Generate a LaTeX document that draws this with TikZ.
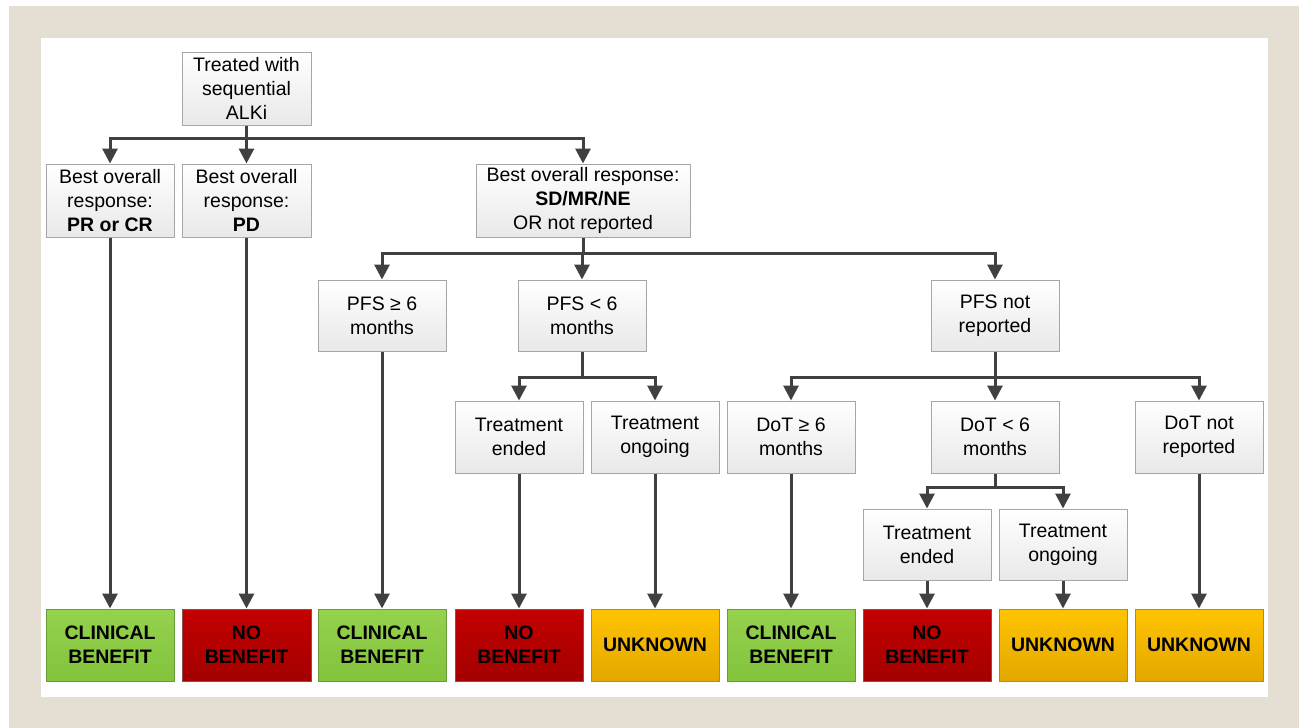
\documentclass[tikz,border=0pt]{standalone}
\usepackage{fontspec}
\setmainfont{Liberation Sans}
\usetikzlibrary{arrows.meta,shadings}
\definecolor{beige}{HTML}{E5DFD3}
\definecolor{linec}{HTML}{404040}
\definecolor{boxline}{HTML}{A6A6A6}
\definecolor{grtop}{HTML}{95D24E}
\definecolor{grbot}{HTML}{83C33C}
\definecolor{grline}{HTML}{6A9A3A}
\definecolor{rdtop}{HTML}{C40000}
\definecolor{rdbot}{HTML}{A30000}
\definecolor{rdline}{HTML}{8A5050}
\definecolor{yltop}{HTML}{FFC400}
\definecolor{ylbot}{HTML}{E3A700}
\definecolor{ylline}{HTML}{A88A40}
\tikzset{
  every node/.style={font=\fontsize{19.5}{24}\selectfont},
  graybox/.style={rectangle, draw=boxline, line width=1pt, top color=white, bottom color=black!9,
    minimum width=128pt, minimum height=72pt, inner sep=0pt, align=center},
  greenbox/.style={graybox, draw=grline, top color=grtop, bottom color=grbot, font=\fontsize{19.5}{24}\selectfont\bfseries},
  redbox/.style={graybox, draw=rdline, top color=rdtop, bottom color=rdbot, font=\fontsize{19.5}{24}\selectfont\bfseries},
  yellowbox/.style={graybox, draw=ylline, top color=yltop, bottom color=ylbot, font=\fontsize{19.5}{24}\selectfont\bfseries},
  conn/.style={draw=linec, line width=3pt, line join=miter},
  arr/.style={conn, -{Triangle[width=15pt,length=15pt]}}
}
\begin{document}
\begin{tikzpicture}[x=1pt,y=-1pt]
\useasboundingbox (0,0) rectangle (1299,728);
\fill[white] (0,0) rectangle (1299,728);
\fill[beige] (9,6) rectangle (1299,728);
\fill[white] (41,38) rectangle (1268,697);

% top
\node[graybox, minimum width=129pt, minimum height=73pt] (top) at (246.5,88.5) {Treated with\\sequential\\ALKi};
% row 2
\node[graybox, minimum height=73pt] (prcr) at (110,200.5) {Best overall\\response:\\\textbf{PR or CR}};
\node[graybox, minimum width=129pt, minimum height=73pt] (pd) at (246.5,200.5) {Best overall\\response:\\\textbf{PD}};
\node[graybox, minimum width=214pt, minimum height=73pt] (sd) at (583,200.5) {Best overall response:\\\textbf{SD/MR/NE}\\OR not reported};
% row 3
\node[graybox, minimum height=71pt] (pfsge) at (382,315.5) {PFS ≥ 6\\months};
\node[graybox, minimum height=71pt] (pfslt) at (582,315.5) {PFS < 6\\months};
\node[graybox, minimum height=71pt] (pfsnr) at (995,315.5) {PFS not\\reported};
% row 4
\node[graybox] (te1) at (519,437) {Treatment\\ended};
\node[graybox] (to1) at (655,437) {Treatment\\ongoing};
\node[graybox] (dotge) at (791,437) {DoT ≥ 6\\months};
\node[graybox] (dotlt) at (995,437) {DoT < 6\\months};
\node[graybox] (dotnr) at (1199,437) {DoT not\\reported};
% row 5
\node[graybox, minimum height=71pt] (te2) at (927,544.5) {Treatment\\ended};
\node[graybox, minimum height=71pt] (to2) at (1063,544.5) {Treatment\\ongoing};
% outcomes
\node[greenbox] (o1) at (110,645) {CLINICAL\\BENEFIT};
\node[redbox, minimum width=129pt] (o2) at (246.5,645) {NO\\BENEFIT};
\node[greenbox] (o3) at (382,645) {CLINICAL\\BENEFIT};
\node[redbox] (o4) at (519,645) {NO\\BENEFIT};
\node[yellowbox] (o5) at (655,645) {UNKNOWN};
\node[greenbox] (o6) at (791,645) {CLINICAL\\BENEFIT};
\node[redbox] (o7) at (927,645) {NO\\BENEFIT};
\node[yellowbox] (o8) at (1063,645) {UNKNOWN};
\node[yellowbox] (o9) at (1199,645) {UNKNOWN};

% junctions
\coordinate (j1) at (246.5,138);
\coordinate (j2) at (583,253);
\coordinate (j3) at (582,377);
\coordinate (j4) at (995,377);
\coordinate (j5) at (995,487);

\draw[conn] (top.south) -- (j1);
\draw[arr] (j1) -| (prcr.north);
\draw[arr] (j1) -- (pd.north);
\draw[arr] (j1) -| (sd.north);

\draw[conn] (sd.south) -- (j2);
\draw[arr] (j2) -| (pfsge.north);
\draw[arr] (j2) -| (pfslt.north);
\draw[arr] (j2) -| (pfsnr.north);

\draw[conn] (pfslt.south) -- (j3);
\draw[arr] (j3) -| (te1.north);
\draw[arr] (j3) -| (to1.north);

\draw[conn] (pfsnr.south) -- (j4);
\draw[arr] (j4) -| (dotge.north);
\draw[arr] (j4) -- (dotlt.north);
\draw[arr] (j4) -| (dotnr.north);

\draw[conn] (dotlt.south) -- (j5);
\draw[arr] (j5) -| (te2.north);
\draw[arr] (j5) -| (to2.north);

\draw[arr] (prcr.south) -- (o1.north);
\draw[arr] (pd.south) -- (o2.north);
\draw[arr] (pfsge.south) -- (o3.north);
\draw[arr] (te1.south) -- (o4.north);
\draw[arr] (to1.south) -- (o5.north);
\draw[arr] (dotge.south) -- (o6.north);
\draw[arr] (te2.south) -- (o7.north);
\draw[arr] (to2.south) -- (o8.north);
\draw[arr] (dotnr.south) -- (o9.north);
\end{tikzpicture}
\end{document}
